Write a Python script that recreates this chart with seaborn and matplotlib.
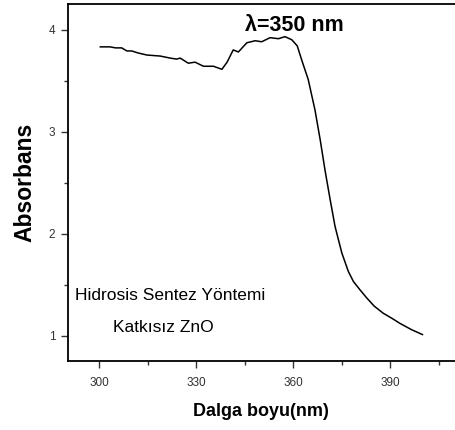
import numpy as np
import pandas as pd
import matplotlib
matplotlib.use("Agg")
import matplotlib.pyplot as plt
import seaborn as sns
from matplotlib.ticker import MultipleLocator

# UV-Vis absorbance spectrum
wavelength = [300.2, 301.5, 303.3, 305.0, 306.9, 308.5, 310.0, 312.0, 314.7,
              318.8, 321.9, 323.9, 325.0, 327.5, 329.6, 332.2, 335.3, 337.9,
              339.5, 341.4, 343.0, 345.6, 348.2, 350.2, 352.8, 355.4, 357.4,
              359.5, 361.2, 362.6, 364.6, 366.7, 368.3, 369.8, 371.4, 372.9,
              375.0, 377.0, 378.6, 380.6, 382.7, 385.0, 387.8, 390.5, 393.0,
              396.5, 400.0]
absorbance = [3.83, 3.83, 3.83, 3.82, 3.82, 3.79, 3.79, 3.77, 3.75,
              3.74, 3.72, 3.71, 3.72, 3.67, 3.68, 3.64, 3.64, 3.61,
              3.68, 3.80, 3.78, 3.87, 3.89, 3.88, 3.92, 3.91, 3.93,
              3.90, 3.84, 3.70, 3.51, 3.21, 2.92, 2.62, 2.33, 2.07,
              1.81, 1.63, 1.53, 1.45, 1.37, 1.29, 1.22, 1.17, 1.12,
              1.06, 1.01]

x_ticks = [300, 330, 360, 390]
y_ticks = [1, 2, 3, 4]
peak_label = "λ=350 nm"
method_label = "Hidrosis Sentez Yöntemi"
sample_label = "Katkısız ZnO"

sns.set_style("white")
plt.rcParams["font.family"] = ["Liberation Sans", "DejaVu Sans"]

df = pd.DataFrame({"wl": wavelength, "abs": absorbance})

fig = plt.figure(figsize=(4.55, 4.30), dpi=100)
ax = fig.add_axes([67.7 / 455, 69.3 / 430, 1 - 67.7 / 455, (360.7 - 4) / 430])
sns.lineplot(data=df, x="wl", y="abs", color="black", lw=1.1, ax=ax)

ax.set_xlim(290.2, 410.0)
ax.set_ylim(0.755, 4.25)
ax.set_xticks(x_ticks)
ax.set_yticks(y_ticks)
ax.xaxis.set_minor_locator(MultipleLocator(15))
ax.yaxis.set_minor_locator(MultipleLocator(0.5))
ax.tick_params(which="major", direction="out", length=5, width=1, color="#333333",
               labelsize=8.5, labelcolor="#333333")
ax.tick_params(which="minor", direction="out", length=3, width=1, color="#333333")
ax.tick_params(axis="x", which="both", bottom=True, pad=7)
ax.tick_params(axis="y", which="both", left=True, pad=4)

for side in ["left", "bottom", "top"]:
    ax.spines[side].set_color("black")
    ax.spines[side].set_linewidth(1.3)
ax.spines["right"].set_visible(False)

ax.set_xlabel("Dalga boyu(nm)", fontsize=13, fontweight="bold", labelpad=10,
              color="black")
ax.set_ylabel("Absorbans", fontsize=16.5, fontweight="bold", labelpad=9,
              color="black")

ax.text(360.2, 3.99, peak_label, fontsize=15.5, fontweight="bold", ha="center",
        va="baseline", color="black")
ax.text(292.5, 1.35, method_label, fontsize=12.5, ha="left", va="baseline",
        color="black")
ax.text(304.3, 1.04, sample_label, fontsize=12.5, ha="left", va="baseline",
        color="black")

fig.savefig("out.png", dpi=100)
plt.close(fig)
